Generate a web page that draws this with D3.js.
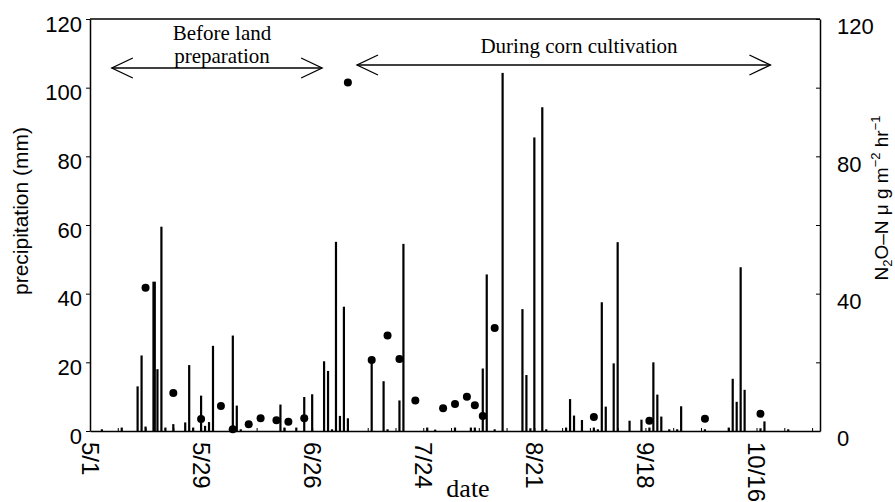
<!DOCTYPE html>
<html>
<head>
  <script src="https://d3js.org/d3.v7.min.js"></script>
  <style>
    body { margin: 0; background: #fff; }
    .tick text { font-family: 'Liberation Sans', Arial, sans-serif; fill: #000; }
    .serif { font-family: 'Liberation Serif', 'Times New Roman', serif; fill: #000; }
  </style>
</head>
<body>
  <svg id="chart" width="895" height="502"></svg>
  <script>
    // days counted from 5/1 (day 0)
    const rainDay = [3, 8, 12, 13, 14, 16, 17, 18, 19, 21, 24, 25, 26, 28, 29, 30, 31, 36, 37, 38,
      48, 49, 52, 54, 56, 59, 60, 61, 62, 63, 64, 65, 71, 74, 75, 78, 79, 85, 87, 92, 96, 97, 99, 100,
      102, 104, 109, 110, 111, 112, 114, 115, 120, 121, 122, 124, 127, 128, 129, 130, 132, 133, 136,
      139, 141, 142, 143, 144, 146, 148, 149, 155, 161, 162, 163, 164, 165, 169, 170, 176];
    const rainMm = [0.5, 1, 13, 22, 1.3, 43.5, 18, 59.5, 1, 2, 2.5, 19.2, 1, 10.3, 1.5, 2.6, 24.8, 27.8, 7.4, 0.5,
      7.7, 1, 1, 9.9, 10.7, 20.3, 17.5, 0.5, 55.1, 4.4, 36.2, 3.7, 21.2, 14.5, 0.5, 8.9, 54.5, 1, 0.4, 1, 1, 1, 18.2, 45.6,
      0.5, 104.3, 35.5, 16.3, 0.8, 85.5, 94.3, 0.5, 1, 9.3, 4.5, 3.2, 1, 0.5, 37.5, 7.1, 19.7, 55,
      3, 3.3, 1, 20, 10.6, 4.2, 0.5, 0.5, 7.2, 0.5, 1, 15.2, 8.5, 47.7, 12, 0.8, 2.8, 0.5];

    const n2oDay = [14, 21, 28, 33, 36, 40, 43, 47, 50, 54, 65, 71, 75, 78, 82, 89, 92, 95, 97, 99,
      102, 127, 141, 155, 169];
    const n2oFlux = [41.7, 11.1, 3.5, 7.3, 0.5, 2, 3.7, 3.1, 2.7, 3.7, 101.5, 20.7, 27.8, 21, 8.9, 6.6,
      7.9, 10, 7.5, 4.4, 30, 4.1, 3, 3.6, 5];

    const dateTickDay = [0, 28, 56, 84, 112, 140, 168];
    const dateTickLabel = ["5/1", "5/29", "6/26", "7/24", "8/21", "9/18", "10/16"];
    const leftTicks = [0, 20, 40, 60, 80, 100, 120];
    const rightTicks = [0, 20, 40, 60, 80, 100, 120];

    const svg = d3.select("#chart");
    const mLeft = 90, mRight = 820, mTop = 19, mBottom = 431;

    const x = d3.scaleLinear().domain([0, 184]).range([mLeft, mRight]);
    const y = d3.scaleLinear().domain([0, 120]).range([mBottom, mTop]);
    const yR = d3.scaleLinear().domain([0, 120]).range([mBottom, mTop]);

    // bars
    svg.append("g").selectAll("rect")
      .data(rainDay)
      .enter()
      .append("rect")
      .attr("x", d => x(d) - 1.1)
      .attr("width", d => d === 16 ? 3.5 : 2.2)
      .attr("y", (d, i) => y(rainMm[i]))
      .attr("height", (d, i) => mBottom - y(rainMm[i]))
      .attr("fill", "#000");

    // N2O dots
    svg.append("g").selectAll("circle")
      .data(n2oDay)
      .enter()
      .append("circle")
      .attr("cx", d => x(d))
      .attr("cy", (d, i) => yR(n2oFlux[i]))
      .attr("r", 4)
      .attr("fill", "#000");

    // left axis
    const gL = svg.append("g")
      .attr("transform", `translate(${mLeft},0)`)
      .call(d3.axisLeft(y).tickValues(leftTicks).tickSize(4).tickSizeOuter(0).tickPadding(4));
    gL.selectAll("text").attr("font-size", 22).attr("dy", "0.55em");

    // right axis
    const gR = svg.append("g")
      .attr("transform", `translate(${mRight},0)`)
      .call(d3.axisRight(yR).tickValues(rightTicks).tickSize(-4).tickSizeOuter(0).tickPadding(17)
        .tickFormat(d => d % 40 === 0 ? d : ""));
    gR.selectAll("text").attr("font-size", 22).attr("dy", "0.68em");

    // bottom axis
    svg.append("g")
      .attr("transform", `translate(0,${mBottom})`)
      .call(d3.axisBottom(x).tickValues(d3.range(0, 185, 7)).tickSize(-3).tickSizeOuter(0).tickFormat(""));
    svg.selectAll(".domain").attr("stroke-width", 1.5);
    svg.selectAll(".tick line").attr("stroke-width", 1);

    svg.append("line")
      .attr("x1", mLeft).attr("x2", mRight)
      .attr("y1", mTop).attr("y2", mTop)
      .attr("stroke", "#000").attr("stroke-width", 1.5);

    // date labels (rotated)
    svg.append("g").selectAll("text")
      .data(dateTickDay)
      .enter()
      .append("text")
      .attr("transform", d => `translate(${x(d)},442) rotate(90)`)
      .attr("dy", "0.35em")
      .attr("font-family", "'Liberation Sans', Arial, sans-serif")
      .attr("font-size", 24)
      .text((d, i) => dateTickLabel[i]);

    // axis titles
    svg.append("text")
      .attr("transform", "translate(28,211) rotate(-90)")
      .attr("text-anchor", "middle")
      .attr("font-family", "'Liberation Sans', Arial, sans-serif")
      .attr("font-size", 21)
      .text("precipitation (mm)");

    const rt = svg.append("text")
      .attr("transform", "translate(888,198) rotate(-90)")
      .attr("text-anchor", "middle")
      .attr("font-family", "'Liberation Sans', Arial, sans-serif")
      .attr("font-size", 19);
    rt.append("tspan").text("N");
    rt.append("tspan").attr("font-size", 13).attr("dy", 4).text("2");
    rt.append("tspan").attr("dy", -4).text("O\u2013N  \u03bc g m");
    rt.append("tspan").attr("font-size", 13).attr("dy", -8).text("\u22122");
    rt.append("tspan").attr("dy", 8).text(" hr");
    rt.append("tspan").attr("font-size", 13).attr("dy", -8).text("\u22121");

    svg.append("text")
      .attr("class", "serif")
      .attr("x", 468).attr("y", 497)
      .attr("text-anchor", "middle")
      .attr("font-size", 26)
      .text("date");

    // period annotations
    const arrow = (x1, x2, yy) => {
      const g = svg.append("g").attr("stroke", "#000").attr("stroke-width", 1.3).attr("fill", "none");
      g.append("line").attr("x1", x1).attr("x2", x2).attr("y1", yy).attr("y2", yy);
      g.append("path").attr("d", `M${x1 + 21},${yy - 10} L${x1},${yy} L${x1 + 21},${yy + 10}`);
      g.append("path").attr("d", `M${x2 - 21},${yy - 10} L${x2},${yy} L${x2 - 21},${yy + 10}`);
    };
    arrow(x(5.5), x(58.5), 68);
    arrow(x(67.3), x(171.5), 65);

    svg.append("text").attr("class", "serif")
      .attr("x", 222).attr("y", 40).attr("text-anchor", "middle").attr("font-size", 21)
      .text("Before land");
    svg.append("text").attr("class", "serif")
      .attr("x", 222).attr("y", 63).attr("text-anchor", "middle").attr("font-size", 21)
      .text("preparation");
    svg.append("text").attr("class", "serif")
      .attr("x", 579).attr("y", 53).attr("text-anchor", "middle").attr("font-size", 21)
      .text("During corn cultivation");
  </script>
</body>
</html>
